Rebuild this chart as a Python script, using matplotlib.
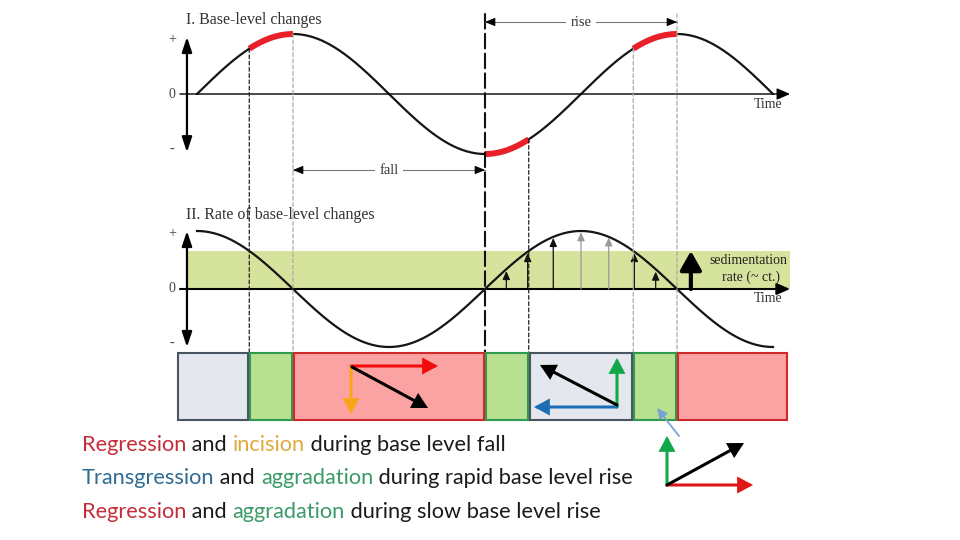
import numpy as np
import matplotlib
matplotlib.use("Agg")
import matplotlib.pyplot as plt
from matplotlib.patches import Rectangle, ConnectionPatch
import matplotlib.transforms as mtransforms

# ---------------- data ----------------
cycle_phase = np.arange(0, 541, 1.0)            # time, degrees of the base-level cycle
base_level = np.sin(np.deg2rad(cycle_phase))    # I. base-level curve
rate_of_change = np.cos(np.deg2rad(cycle_phase))  # II. rate of base-level change
highlight_spans = [(49, 90), (270, 311), (409, 450)]
sed_rate = 0.655
sed_arrow_phase = [290, 310, 334, 360, 386, 410, 430]
sed_arrow_height = [0.31, 0.62, 0.88, 0.98, 0.89, 0.62, 0.30]
sed_arrow_color = ['#111', '#111', '#111', '#999', '#999', '#111', '#111']
big_arrow_phase = 463
strip_edges = [-19, 49, 90, 270, 311, 409, 450, 554]
strip_kind = ['gray', 'green', 'red', 'green', 'gray', 'green', 'red']
fall_span = (90, 270)
rise_span = (270, 450)
guide_lines = [  # phase, start, style
    (49, 'curve', 'black'),
    (90, 'curve', 'gray'),
    (270, 'top', 'thick'),
    (311, 'curve', 'black'),
    (409, 'curve', 'gray'),
    (450, 'top', 'gray'),
]
legend_lines = [
    [("Regression", '#c42c38'), (" and ", '#1a1a1a'), ("incision", '#e0a93c'),
     (" during base level fall", '#1a1a1a')],
    [("Transgression", '#2f6b92'), (" and ", '#1a1a1a'), ("aggradation", '#3a9a68'),
     (" during rapid base level rise", '#1a1a1a')],
    [("Regression", '#c42c38'), (" and ", '#1a1a1a'), ("aggradation", '#3a9a68'),
     (" during slow base level rise", '#1a1a1a')],
]

# ---------------- figure ----------------
fig = plt.figure(figsize=(9.6, 5.4), dpi=100)
XL = (-184.6875, 715.3125)

base = fig.add_axes([0, 0, 1, 1])
base.set_xlim(0, 960)
base.set_ylim(540, 0)
base.axis('off')
base.set_zorder(5)
base.patch.set_alpha(0)

ax1 = fig.add_axes([0, 1 - 190 / 540, 1, 190 / 540])
ax1.set_xlim(*XL)
ax1.set_ylim(-96 / 60, 94 / 60)
ax1.axis('off')

ax2 = fig.add_axes([0, 1 - 350 / 540, 1, 160 / 540])
ax2.set_xlim(*XL)
ax2.set_ylim(-61 / 58, 99 / 58)
ax2.axis('off')

serif = 'Liberation Serif'
def arrow(ax, p0, p1, color='k', lw=1.0, hl=7, hw=3.5, style='-|>'):
    ax.annotate('', xy=p1, xytext=p0, annotation_clip=False,
                arrowprops=dict(arrowstyle=f'{style},head_length={hl},head_width={hw}',
                                lw=lw, color=color, shrinkA=0, shrinkB=0,
                                mutation_scale=1))

# ---- Panel I ----
ax1.text(-10.3, 1.23, "I. Base-level changes", family=serif, fontsize=11.5,
         color='#333', va='center', ha='left')
arrow(ax1, (-16, 0), (556, 0), lw=1.0, hl=8, hw=3.5)
arrow(ax1, (-9.4, -0.97), (-9.4, 0.95), lw=1.6, hl=9, hw=3, style='<|-|>')
ax1.plot(cycle_phase, base_level, color='#151515', lw=1.6, solid_capstyle='round')
for a, b in highlight_spans:
    m = (cycle_phase >= a) & (cycle_phase <= b)
    ax1.plot(cycle_phase[m], base_level[m], color='#e8202a', lw=4.3,
             solid_capstyle='butt', zorder=3)

# ---- Panel II ----
ax2.text(-10.3, 1.28, "II. Rate of base-level changes", family=serif, fontsize=11.5,
         color='#333', va='center', ha='left')
ax2.fill_between([-10.3, 556], 0, sed_rate, color='#d6e39d', lw=0, zorder=0)
arrow(ax2, (-16, 0), (556, 0), lw=1.5, hl=8, hw=3.5)
arrow(ax2, (-9.4, -1.0), (-9.4, 1.0), lw=1.6, hl=9, hw=3, style='<|-|>')
ax2.plot(cycle_phase, rate_of_change, color='#151515', lw=1.6, zorder=3)
for ph, h, c in zip(sed_arrow_phase, sed_arrow_height, sed_arrow_color):
    arrow(ax2, (ph, 0), (ph, h), color=c, lw=0.9, hl=5, hw=2.2)
arrow(ax2, (big_arrow_phase, 0), (big_arrow_phase, sed_rate), lw=3, hl=11.5, hw=6.5)

# ---- axis labels (pixel overlay) ----
for y, s in [(40, '+'), (94, '0'), (149, '-'), (234, '+'), (289, '0'), (343, '-')]:
    base.text(172, y, s, family=serif, fontsize=10, color='#444', ha='center', va='center')
base.text(768, 104, "Time", family=serif, fontsize=10, color='#333', ha='center', va='center')
base.text(768, 299, "Time", family=serif, fontsize=10, color='#333', ha='center', va='center')
base.text(748, 261, "sedimentation", family=serif, fontsize=10, color='#222', ha='center', va='center')
base.text(751, 277, "rate (~ ct.)", family=serif, fontsize=10, color='#222', ha='center', va='center')

# ---- guide lines ----
blend1 = mtransforms.blended_transform_factory(ax1.transData, base.transData)
styles = {'black': dict(color='#222', lw=0.9, dashes=(3, 2)),
          'gray': dict(color='#aaaaaa', lw=0.9, dashes=(3, 2)),
          'thick': dict(color='#111', lw=1.5, dashes=(7, 2.5))}
for ph, start, st in guide_lines:
    if start == 'curve':
        xyA, cA = (ph, np.sin(np.deg2rad(ph))), ax1.transData
    else:
        xyA, cA = (ph, 14), blend1
    kw = styles[st]
    con = ConnectionPatch(xyA=xyA, coordsA=cA, xyB=(ph, 353), coordsB=blend1,
                          color=kw['color'], lw=kw['lw'])
    con.set_linestyle((0, kw['dashes']))
    con.set_zorder(4)
    fig.add_artist(con)

# ---- fall / rise ----
for (a, b), y, label in [(fall_span, 170, 'fall'), (rise_span, 22, 'rise')]:
    base.plot([a, b], [y, y], transform=blend1, color='#777', lw=0.8)
    for tip, back in [(a, a + 8), (b, b - 8)]:
        base.annotate('', xy=(tip, y), xytext=(back, y), xycoords=blend1, textcoords=blend1,
                      arrowprops=dict(arrowstyle='-|>,head_length=6,head_width=2.5', lw=0.8,
                                      color='k', shrinkA=0, shrinkB=0, mutation_scale=1))
    base.text((a + b) / 2, y, label, transform=blend1, family=serif, fontsize=10.5,
              color='#333', ha='center', va='center',
              bbox=dict(fc='white', ec='none', pad=3))

# ---- strip of boxes ----
box_style = {'gray': ('#e4e8ee', '#4a5562'),
             'green': ('#b9df90', '#2f9a50'),
             'red': ('#fba3a3', '#d22a2a')}
for i, kind in enumerate(strip_kind):
    x0, x1 = strip_edges[i] + 0.8, strip_edges[i + 1] - 0.8
    fc, ec = box_style[kind]
    base.add_patch(Rectangle((x0, 353), x1 - x0, 67, transform=blend1,
                             fc=fc, ec=ec, lw=1.5))

def parrow(p0, p1, color, lw=2.2, hl=8, hw=4.3):
    base.annotate('', xy=p1, xytext=p0, annotation_clip=False,
                  arrowprops=dict(arrowstyle=f'-|>,head_length={hl},head_width={hw}',
                                  lw=lw, color=color, shrinkA=0, shrinkB=0,
                                  mutation_scale=1, joinstyle='miter'))

parrow((351, 366), (438, 366), '#f20d0d')
parrow((351, 367), (351, 414), '#f9a51a')
parrow((352, 367), (428, 408), '#000000')
parrow((617, 407), (617, 358), '#12a84a')
parrow((617, 407), (534, 407), '#1d6db5')
parrow((617, 405), (540, 365), '#000000')
parrow((679, 436), (657, 408), '#7aa3d2', lw=1.3, hl=6, hw=3)
parrow((667, 485), (667, 436), '#12a84a')
parrow((667, 485), (753, 485), '#e01515')
parrow((667, 485), (744, 443), '#000000')

# ---- legend text ----
fig.canvas.draw()
r = fig.canvas.get_renderer()
tkw = dict(family='Lato', fontweight='normal', fontsize=15.7)
def width(s):
    t = base.text(0, 0, s + '|', **tkw)
    t2 = base.text(0, 0, '|', **tkw)
    w = t.get_window_extent(r).width - t2.get_window_extent(r).width
    t.remove(); t2.remove()
    return w
for line, yb in zip(legend_lines, [451, 484.5, 518]):
    prefix = ''
    for s, c in line:
        x = 82 + width(prefix) if prefix else 82
        base.text(x, yb, s, color=c, va='baseline', ha='left', **tkw)
        prefix += s

fig.savefig('out.png', dpi=100)
